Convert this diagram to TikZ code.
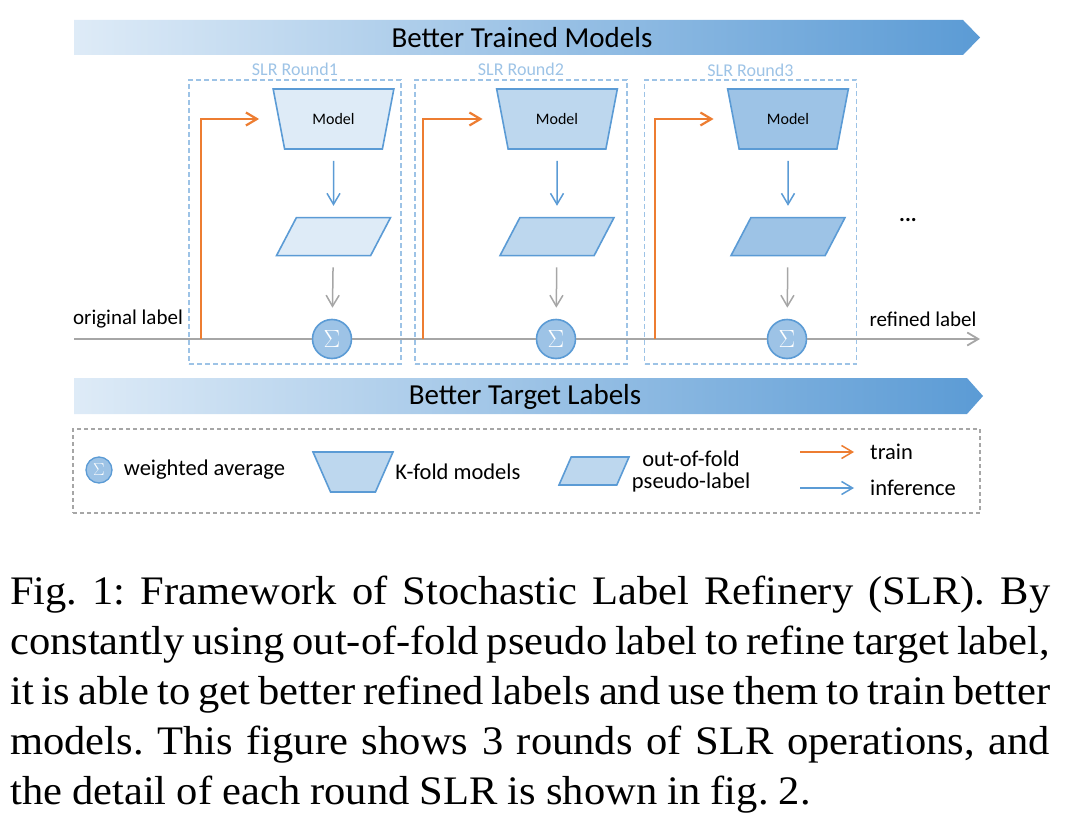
\documentclass[tikz,border=0pt]{standalone}
\usepackage{fontspec}
\setmainfont{Carlito}
\newfontfamily\captionserif[FakeStretch=1.05]{Liberation Serif}
\usepackage{xcolor}
\definecolor{colorTrain}{HTML}{ED7D31}
\definecolor{colorInfer}{HTML}{5B9BD5}
\definecolor{colorLine}{HTML}{A6A6A6}
\definecolor{colorRoundA}{HTML}{DEEBF7}
\definecolor{colorRoundB}{HTML}{BDD7EE}
\definecolor{colorRoundC}{HTML}{9DC3E6}
\colorlet{colorBox}{colorRoundC}
\usepackage{tikz}
\usetikzlibrary{arrows.meta, positioning, shapes.geometric}
\tikzset{model/.style={trapezium, shape border rotate=180, trapezium left angle=68.6, trapezium right angle=68.6, trapezium stretches=true, minimum width=121pt, minimum height=60pt, inner sep=1pt, draw=colorInfer, line width=1.6pt, font=\fontsize{16}{18}\selectfont}}
\tikzset{pseudo/.style={trapezium, trapezium left angle=75, trapezium right angle=105, trapezium stretches=true, minimum width=114pt, minimum height=38pt, inner sep=1pt, draw=colorInfer, line width=1.6pt}}
\tikzset{wavg/.style={circle, draw=colorInfer, fill=colorRoundC, line width=1.6pt, minimum size=39pt, inner sep=0pt, text=white, font=\fontsize{27}{27}\selectfont}}
\tikzset{roundbox/.style={draw=colorBox, dash pattern=on 5pt off 3pt, line width=1.3pt, minimum width=212pt, minimum height=284pt}}
\tikzset{roundtitle/.style={text=colorBox, inner sep=2pt, font=\fontsize{18}{19}\selectfont}}
\tikzset{banner/.style={font=\fontsize{29}{31}\selectfont}}
\tikzset{plain/.style={inner sep=2pt, font=\fontsize{21}{22}\selectfont}}
\tikzset{legendtext/.style={inner sep=2pt, font=\fontsize{22.5}{22}\selectfont}}
\tikzset{train/.style={draw=colorTrain, line width=2.2pt}}
\tikzset{infer/.style={draw=colorInfer, line width=1.5pt}}
\tikzset{flow/.style={draw=colorLine, line width=1.8pt}}

\begin{document}
\begin{tikzpicture}[>={Straight Barb[length=11pt, width=13pt]}, x=1pt, y=-1pt]
\useasboundingbox (0,0) rectangle (1078,832);
% banners
\shade[left color=colorRoundA, right color=colorInfer] (74,20) -- (963,20) -- (980,37.5) -- (963,55) -- (74,55) -- cycle;
\node[banner] (trained) at (522,38) {Better Trained Models};
\shade[left color=colorRoundA, right color=colorInfer] (74,378) -- (967,378) -- (983,396) -- (967,414) -- (74,414) -- cycle;
\node[banner] (target) at (525,397) {Better Target Labels};

% rounds
\node[roundbox] (r1) at (295,222) {};
\node[roundbox] (r2) at (521,222) {};
\node[roundbox] (r3) at (750.5,222) {};
\node[roundtitle, above=2pt of r1] (t1) {SLR Round1};
\node[roundtitle, above=2pt of r2] (t2) {SLR Round2};
\node[roundtitle, above=1pt of r3] (t3) {SLR Round3};

\node[model, fill=colorRoundA] (m1) at (333.5,119) {Model};
\node[pseudo, fill=colorRoundA, below=67pt of m1] (p1) {};
\node[wavg] (s1) at (332,339) {$\Sigma$};
\node[model, fill=colorRoundB] (m2) at (557,119) {Model};
\node[pseudo, fill=colorRoundB, below=67pt of m2] (p2) {};
\node[wavg] (s2) at (556,339) {$\Sigma$};
\node[model, fill=colorRoundC] (m3) at (788,119) {Model};
\node[pseudo, fill=colorRoundC, below=67pt of m3] (p3) {};
\node[wavg] (s3) at (787,339) {$\Sigma$};

% label line
\coordinate (orig) at (74,339);
\coordinate (refd) at (980,339);
\node[plain] (ol) at (128,319) {original label};
\node[plain] (rl) at (923,319) {refined label};
\node[plain, font=\fontsize{22}{22}\bfseries] (dots) at (908,220) {...};
\draw[flow] (orig) -- (s1);
\draw[flow] (s1) -- (s2);
\draw[flow] (s2) -- (s3);
\draw[flow, ->] (s3) -- (refd);

\coordinate (tap1) at (201,339);
\coordinate (tap2) at (423,339);
\coordinate (tap3) at (655,339);
\draw[train, ->, shorten >=19pt] (tap1) |- (m1);
\draw[train, ->, shorten >=19pt] (tap2) |- (m2);
\draw[train, ->, shorten >=19pt] (tap3) |- (m3);
\draw[infer, ->, shorten <=11pt, shorten >=11pt] (m1) -- (p1);
\draw[infer, ->, shorten <=11pt, shorten >=11pt] (m2) -- (p2);
\draw[infer, ->, shorten <=11pt, shorten >=11pt] (m3) -- (p3);
\draw[flow, line width=1.5pt, ->, shorten <=11pt, shorten >=11pt] (p1) -- (s1);
\draw[flow, line width=1.5pt, ->, shorten <=11pt, shorten >=11pt] (p2) -- (s2);
\draw[flow, line width=1.5pt, ->, shorten <=11pt, shorten >=11pt] (p3) -- (s3);

% legend
\node[draw=colorLine, dash pattern=on 4pt off 3pt, line width=1.3pt, minimum width=907pt, minimum height=84pt] (leg) at (526.5,471) {};
\node[wavg, minimum size=26pt, line width=1.3pt, font=\fontsize{17}{17}\selectfont] (ls) at (99,470) {$\Sigma$};
\node[legendtext, right=9pt of ls] (lst) {weighted average};
\node[model, minimum width=80pt, minimum height=40pt, fill=colorRoundB] (lm) at (353,472) {};
\node[legendtext, right=8pt of lm] (lmt) {K-fold models};
\node[pseudo, minimum width=70pt, minimum height=28pt, fill=colorRoundB] (lp) at (594,471) {};
\node[legendtext, align=center, right=6pt of lp] (lpt) {out-of-fold\\pseudo-label};
\node[legendtext, anchor=west] (ltt) at (868,452) {train};
\node[legendtext, anchor=west] (lit) at (868,488) {inference};
\coordinate (lt0) at (800,452);
\coordinate (li0) at (800,488);
\draw[train, line width=1.5pt, ->, shorten >=14pt] (lt0) -- (ltt);
\draw[infer, ->, shorten >=14pt] (li0) -- (lit);

% caption
\node[anchor=north west, text width=1040pt, align=left, inner sep=0pt, font=\captionserif\fontsize{40.5}{50}\selectfont] (cap) at (10,576) {\frenchspacing\spaceskip=.25em plus .3em minus .14em\relax
\hbox to 1040pt{Fig.~1: Framework of Stochastic Label Refinery (SLR). By}\linebreak
\hbox to 1040pt{constantly using out-of-fold pseudo label to refine target label,}\linebreak
\hbox to 1040pt{it is able to get better refined labels and use them to train better}\linebreak
\hbox to 1040pt{models. This figure shows 3 rounds of SLR operations, and}\linebreak
the detail of each round SLR is shown in fig.~2.};
\end{tikzpicture}
\end{document}
